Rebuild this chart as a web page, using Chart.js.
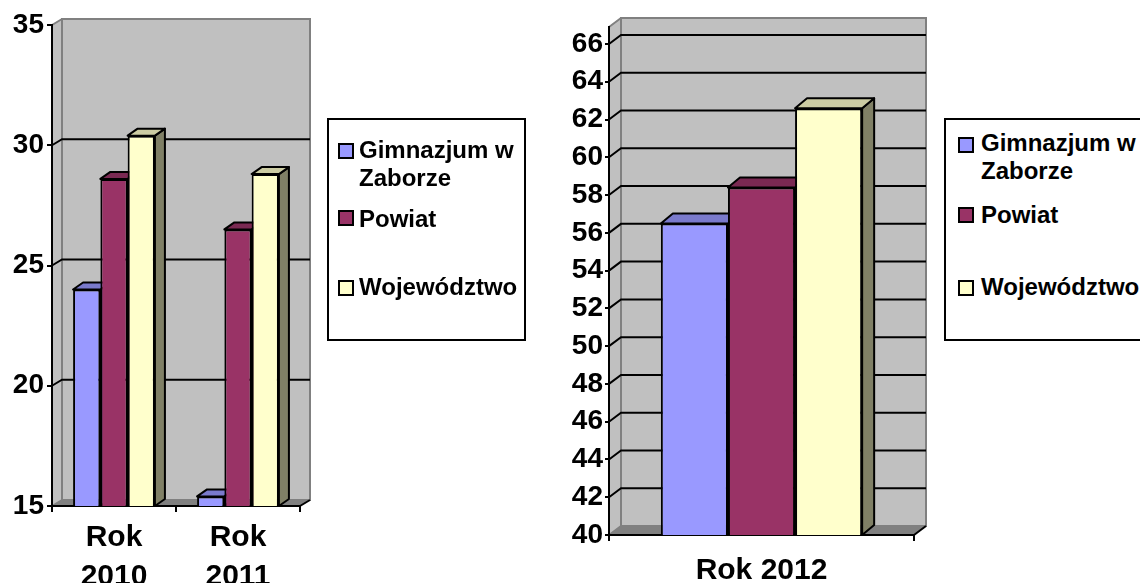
<!DOCTYPE html>
<html>
<head>
<meta charset="utf-8">
<script src="https://cdn.jsdelivr.net/npm/chart.js@4/dist/chart.umd.min.js"></script>
<style>
  body { margin: 0; background: #fff; width: 1140px; height: 583px; overflow: hidden; position: relative; font-family: "Liberation Sans", Arial, sans-serif; }
  canvas { position: absolute; top: 0; }
  .legenda { position: absolute; top: 118px; height: 223px; border: 2px solid #000; background: #fff; box-sizing: border-box; font-weight: bold; font-size: 24px; color: #000; }
  .kw { position: absolute; width: 16px; height: 16px; border: 2px solid #000; box-sizing: border-box; }
  .tx { position: absolute; line-height: 28px; width: 168px; white-space: normal; }
</style>
</head>
<body>
<canvas id="wykres1" width="540" height="583" style="left:0"></canvas>
<canvas id="wykres2" width="600" height="583" style="left:540px"></canvas>
<div id="leg1" class="legenda" style="left:327px;width:199px"></div>
<div id="leg2" class="legenda" style="left:944px;width:220px"></div>
<script>
// dane - lata 2010 i 2011
const kategorie1 = [['Rok', '2010'], ['Rok', '2011']];
const gimnazjum1 = [24.0, 15.4];
const powiat1 = [28.6, 26.5];
const wojewodztwo1 = [30.4, 28.8];
const osY1 = [15, 20, 25, 30, 35];

// dane - rok 2012
const kategorie2 = ['Rok 2012'];
const gimnazjum2 = [56.5];
const powiat2 = [58.4];
const wojewodztwo2 = [62.6];
const osY2 = [40, 42, 44, 46, 48, 50, 52, 54, 56, 58, 60, 62, 64, 66];

const serie = ['Gimnazjum w Zaborze', 'Powiat', 'Województwo'];
const kolory = ['#9999FF', '#993366', '#FFFFCC'];

const czcionka = 'Liberation Sans, Arial, sans-serif';

// przyciemnianie koloru dla scian slupka
function cien(hex, f) {
  const n = parseInt(hex.slice(1), 16);
  const r = Math.round(((n >> 16) & 255) * f), g = Math.round(((n >> 8) & 255) * f), b = Math.round((n & 255) * f);
  return 'rgb(' + r + ',' + g + ',' + b + ')';
}

function wielokat(ctx, pkt) {
  ctx.beginPath();
  ctx.moveTo(pkt[0][0], pkt[0][1]);
  for (let i = 1; i < pkt.length; i++) ctx.lineTo(pkt[i][0], pkt[i][1]);
  ctx.closePath();
}

// efekt 3D: sciany, podloga, linie siatki i boki slupkow
const efekt3D = {
  id: 'efekt3D',
  beforeDraw(chart, args, opts) {
    const ctx = chart.ctx, a = chart.chartArea, y = chart.scales.y;
    const dx = opts.sciana[0], dy = opts.sciana[1];
    ctx.save();
    ctx.fillStyle = '#C0C0C0';
    wielokat(ctx, [[a.left, a.top], [a.left + dx, a.top + dy], [a.left + dx, a.bottom + dy], [a.left, a.bottom]]);
    ctx.fill();
    ctx.fillRect(a.left + dx, a.top + dy, a.right - a.left, a.bottom - a.top);
    ctx.fillStyle = '#808080';
    wielokat(ctx, [[a.left, a.bottom], [a.right, a.bottom], [a.right + dx, a.bottom + dy], [a.left + dx, a.bottom + dy]]);
    ctx.fill();
    ctx.strokeStyle = '#808080';
    ctx.lineWidth = 2;
    ctx.strokeRect(a.left + dx, a.top + dy, a.right - a.left, a.bottom - a.top);
    ctx.beginPath();
    ctx.moveTo(a.left, a.top); ctx.lineTo(a.left + dx, a.top + dy);
    ctx.moveTo(a.left, a.bottom); ctx.lineTo(a.left + dx, a.bottom + dy);
    ctx.stroke();
    ctx.strokeStyle = '#000';
    y.ticks.forEach(t => {
      if (t.value <= y.min || t.value >= y.max) return;
      const py = y.getPixelForValue(t.value);
      ctx.beginPath();
      ctx.moveTo(a.left, py);
      ctx.lineTo(a.left + dx, py + dy);
      ctx.lineTo(a.right + dx, py + dy);
      ctx.stroke();
    });
    ctx.beginPath();
    ctx.moveTo(a.right, a.bottom); ctx.lineTo(a.right + dx, a.bottom + dy);
    ctx.stroke();
    ctx.restore();
  },
  beforeDatasetsDraw(chart, args, opts) {
    const ctx = chart.ctx, a = chart.chartArea;
    const dx = opts.slupek[0], dy = opts.slupek[1];
    ctx.save();
    ctx.strokeStyle = '#000';
    ctx.lineWidth = 2;
    ctx.lineJoin = 'round';
    chart.data.datasets.forEach((ds, i) => {
      chart.getDatasetMeta(i).data.forEach(el => {
        const p = el.getProps(['x', 'y', 'base', 'width'], true);
        const l = p.x - p.width / 2, r = p.x + p.width / 2;
        const dol = Math.min(p.base, a.bottom);
        ctx.fillStyle = cien(ds.backgroundColor, 0.5);
        wielokat(ctx, [[r, p.y], [r + dx, p.y + dy], [r + dx, dol + dy], [r, dol]]);
        ctx.fill(); ctx.stroke();
        ctx.fillStyle = cien(ds.backgroundColor, 0.8);
        wielokat(ctx, [[l, p.y], [l + dx, p.y + dy], [r + dx, p.y + dy], [r, p.y]]);
        ctx.fill(); ctx.stroke();
      });
    });
    ctx.restore();
  }
};

function zestawy(dane) {
  return dane.map((d, i) => ({
    label: serie[i],
    data: d,
    backgroundColor: kolory[i],
    borderColor: '#000',
    borderWidth: 2,
    borderSkipped: 'start',
    categoryPercentage: 0.66,
    barPercentage: 1.0
  }));
}

function opcje(o) {
  return {
    responsive: false,
    animation: false,
    devicePixelRatio: 1,
    layout: { padding: o.padding },
    plugins: {
      legend: { display: false },
      tooltip: { enabled: false },
      efekt3D: { sciana: o.sciana, slupek: o.slupek }
    },
    scales: {
      x: {
        afterFit: s => { s.height = o.wysX; },
        grid: { drawOnChartArea: false, drawTicks: true, tickLength: 6, color: '#000', lineWidth: 2 },
        border: { display: true, color: '#000', width: 2 },
        ticks: { color: '#000', padding: o.padX, maxRotation: 0, autoSkip: false, font: { family: czcionka, size: 30, weight: 'bold', lineHeight: 1.3 } }
      },
      y: {
        min: o.osY[0],
        max: o.maxY,
        afterFit: s => { s.width = o.szerY; },
        afterBuildTicks: s => { s.ticks = o.osY.map(v => ({ value: v })); },
        grid: { drawOnChartArea: false, drawTicks: true, tickLength: o.kreska, color: '#000', lineWidth: 2 },
        border: { display: true, color: '#000', width: 2 },
        ticks: { color: '#000', padding: o.padY, font: { family: czcionka, size: 28, weight: 'bold' } }
      }
    }
  };
}

new Chart(document.getElementById('wykres1'), {
  type: 'bar',
  data: { labels: kategorie1, datasets: zestawy([gimnazjum1, powiat1, wojewodztwo1]) },
  options: opcje({ padding: { top: 25, right: 240, left: 0, bottom: 0 }, wysX: 77, szerY: 52, padX: 6, padY: 3, kreska: 5,
    osY: osY1, maxY: 35, sciana: [10, -6], slupek: [10, -7] }),
  plugins: [efekt3D]
});

new Chart(document.getElementById('wykres2'), {
  type: 'bar',
  data: { labels: kategorie2, datasets: zestawy([gimnazjum2, powiat2, wojewodztwo2]) },
  options: opcje({ padding: { top: 27, right: 226, left: 0, bottom: 0 }, wysX: 48, szerY: 69, padX: 10, padY: 2, kreska: 4,
    osY: osY2, maxY: 66.9, sciana: [12, -9], slupek: [12, -10] }),
  plugins: [efekt3D]
});

// legenda HTML z ramka
function legenda(id, o) {
  const box = document.getElementById(id);
  serie.forEach((s, i) => {
    const kw = document.createElement('div');
    kw.className = 'kw';
    kw.style.left = o.kwX + 'px';
    kw.style.top = o.kwY[i] + 'px';
    kw.style.background = kolory[i];
    box.appendChild(kw);
    const tx = document.createElement('div');
    tx.className = 'tx';
    tx.style.left = o.txX + 'px';
    tx.style.top = o.txY[i] + 'px';
    tx.textContent = s;
    box.appendChild(tx);
  });
}
legenda('leg1', { kwX: 9, txX: 30, kwY: [23, 90, 160], txY: [16, 85, 153] });
legenda('leg2', { kwX: 12, txX: 35, kwY: [17, 87, 160], txY: [9, 81, 153] });
</script>
</body>
</html>
